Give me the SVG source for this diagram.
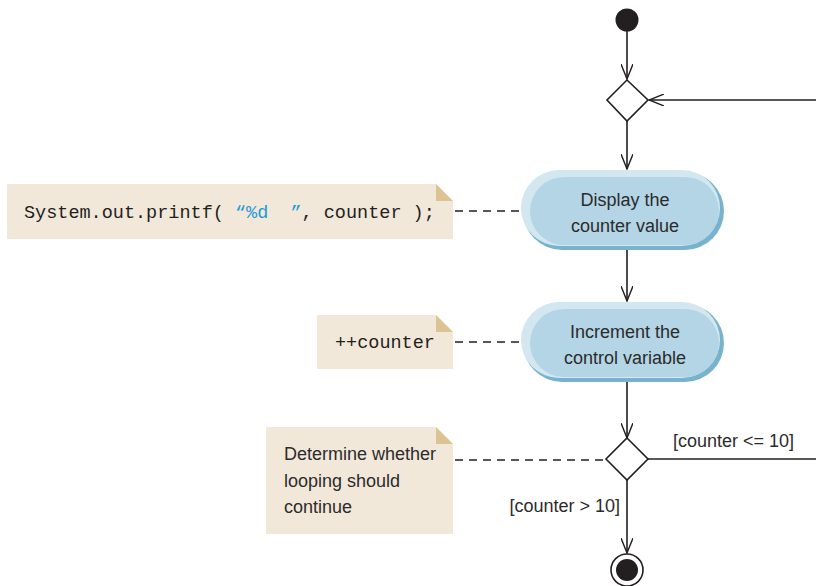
<svg xmlns="http://www.w3.org/2000/svg" width="816" height="586" viewBox="0 0 816 586">
<style>
.edge{fill:none;stroke:#231f20;stroke-width:1.6}
.dash{fill:none;stroke:#231f20;stroke-width:1.4;stroke-dasharray:8,6}
.note{fill:#f2e8da}
.fold{fill:#dcc394}
.lbl{font-family:"Liberation Sans",Arial,sans-serif;font-size:18px;fill:#2b2b2b}
.mono{font-family:"Liberation Mono","Courier New",monospace;font-size:18.5px;fill:#231f20}
.dia{fill:#fff;stroke:#231f20;stroke-width:1.6}
</style>
<defs>
<marker id="arr" markerWidth="16" markerHeight="12" refX="15" refY="6" orient="auto" markerUnits="userSpaceOnUse">
<path d="M0,0 L15,6 L0,12" fill="none" stroke="#231f20" stroke-width="1.4"/>
</marker>
</defs>
<g id="connectors">
<line class="edge" x1="627" y1="31" x2="627" y2="79" marker-end="url(#arr)"/>
<line class="edge" x1="816" y1="100" x2="649" y2="100" marker-end="url(#arr)"/>
<line class="edge" x1="627" y1="121" x2="627" y2="169" marker-end="url(#arr)"/>
<line class="edge" x1="627" y1="250" x2="627" y2="301" marker-end="url(#arr)"/>
<line class="edge" x1="627" y1="382" x2="627" y2="438" marker-end="url(#arr)"/>
<line class="edge" x1="648" y1="459" x2="816" y2="459"/>
<line class="edge" x1="627" y1="480" x2="627" y2="553" marker-end="url(#arr)"/>
<line class="dash" x1="455" y1="211" x2="521" y2="211"/>
<line class="dash" x1="455" y1="342" x2="521" y2="342"/>
<line class="dash" x1="455" y1="460" x2="606" y2="460"/>
<text class="lbl" x="673" y="447">[counter &lt;= 10]</text>
<text class="lbl" x="620" y="512" text-anchor="end">[counter &gt; 10]</text>
</g>
<g id="initial">
<circle cx="627" cy="20" r="11.5" fill="#231f20"/>
</g>
<g id="merge">
<polygon class="dia" points="627,80 648,100 627,121 607,100"/>
</g>
<g id="display">
<rect x="523" y="172" width="201" height="78" rx="39" fill="#78b3ce"/>
<rect x="521" y="170" width="199" height="76" rx="38" fill="#d3e7f0"/>
<rect x="530" y="177" width="189" height="68" rx="34" fill="#b3d5e5"/>
<text class="lbl" x="625" y="206" text-anchor="middle">Display the</text>
<text class="lbl" x="625" y="232" text-anchor="middle">counter value</text>
</g>
<g id="increment">
<rect x="523" y="304" width="201" height="78" rx="39" fill="#78b3ce"/>
<rect x="521" y="302" width="199" height="76" rx="38" fill="#d3e7f0"/>
<rect x="530" y="309" width="189" height="68" rx="34" fill="#b3d5e5"/>
<text class="lbl" x="625" y="338" text-anchor="middle">Increment the</text>
<text class="lbl" x="625" y="364" text-anchor="middle">control variable</text>
</g>
<g id="decision">
<polygon class="dia" points="627,438 648,459 627,480 606,459"/>
</g>
<g id="final">
<circle cx="627" cy="570" r="16" fill="#fff" stroke="#231f20" stroke-width="1.6"/>
<circle cx="627" cy="570" r="11" fill="#231f20"/>
</g>
<g id="note1">
<polygon class="note" points="7,184 436,184 453,201 453,239 7,239"/>
<polygon class="fold" points="436,184 453,201 436,201"/>
<text class="mono" x="24" y="218" xml:space="preserve">System.out.printf( <tspan fill="#1f9ad7">“%d  ”</tspan>, counter );</text>
</g>
<g id="note2">
<polygon class="note" points="317,315 436,315 453,332 453,369 317,369"/>
<polygon class="fold" points="436,315 453,332 436,332"/>
<text class="mono" x="335" y="348">++counter</text>
</g>
<g id="note3">
<polygon class="note" points="266,427 436,427 453,444 453,534 266,534"/>
<polygon class="fold" points="436,427 453,444 436,444"/>
<text class="lbl" x="284" y="460">Determine whether</text>
<text class="lbl" x="284" y="487">looping should</text>
<text class="lbl" x="284" y="513">continue</text>
</g>
</svg>
